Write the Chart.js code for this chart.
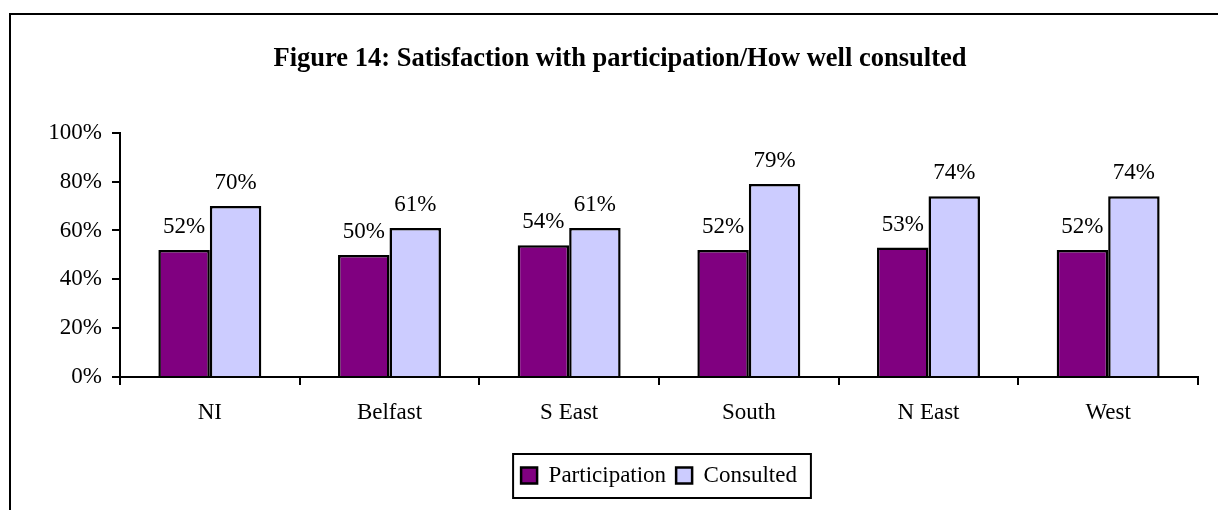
<!DOCTYPE html>
<html>
<head>
<meta charset="utf-8">
<title>Satisfaction with participation</title>
<script src="https://cdn.jsdelivr.net/npm/chart.js@4.4.1/dist/chart.umd.min.js"></script>
<style>
  body { margin: 0; background: #fff; }
  canvas { display: block; }
</style>
</head>
<body>
<canvas id="satisfaction" width="1218" height="510"></canvas>
<script>
// regions and survey results (percent)
const regions = ['NI', 'Belfast', 'S East', 'South', 'N East', 'West'];
const participation = [52, 50, 54, 52, 53, 52];
const consulted = [70, 61, 61, 79, 74, 74];
const yTicks = [0, 20, 40, 60, 80, 100];

const serif = "'Liberation Serif', 'Times New Roman', serif";
Chart.defaults.color = '#000';
Chart.defaults.font.family = serif;

// white page with the frame line on the left and top
const framePlugin = {
    id: 'frame',
    beforeDraw(chart) {
        const c = chart.ctx;
        c.save();
        c.fillStyle = '#fff';
        c.fillRect(0, 0, chart.width, chart.height);
        c.strokeStyle = '#000';
        c.lineWidth = 2;
        c.beginPath();
        c.moveTo(10, chart.height);
        c.lineTo(10, 14);
        c.lineTo(chart.width, 14);
        c.stroke();
        c.restore();
    }
};

// percentage text above every bar
const valueLabels = {
    id: 'valueLabels',
    afterDatasetsDraw(chart) {
        const c = chart.ctx;
        c.save();
        c.font = '23px ' + serif;
        c.fillStyle = '#000';
        c.textAlign = 'center';
        c.textBaseline = 'alphabetic';
        chart.data.datasets.forEach((ds, i) => {
            chart.getDatasetMeta(i).data.forEach((bar, j) => {
                c.fillText(ds.data[j] + '%', bar.x, bar.y - 17);
            });
        });
        c.restore();
    }
};

// box around the legend entries
const legendBox = {
    id: 'legendBox',
    afterDraw(chart) {
        const boxes = chart.legend.legendHitBoxes;
        if (!boxes || !boxes.length) return;
        const first = boxes[0];
        const last = boxes[boxes.length - 1];
        const c = chart.ctx;
        c.save();
        c.strokeStyle = '#000';
        c.lineWidth = 2;
        c.strokeRect(first.left - 8, first.top - 10, last.left + last.width - first.left + 22, first.height + 21);
        c.restore();
    }
};

new Chart(document.querySelector('#satisfaction'), {
    type: 'bar',
    data: {
        labels: regions,
        datasets: [{
            label: 'Participation',
            data: participation,
            backgroundColor: '#800080',
            borderColor: '#000',
            borderWidth: 2.5
        }, {
            label: 'Consulted',
            data: consulted,
            backgroundColor: '#CCCCFF',
            borderColor: '#000',
            borderWidth: 2.5
        }]
    },
    options: {
        responsive: false,
        animation: false,
        categoryPercentage: 0.573,
        barPercentage: 1,
        layout: {
            padding: { left: 42, right: 20, top: 15, bottom: 13 }
        },
        plugins: {
            title: {
                display: true,
                text: 'Figure 14: Satisfaction with participation/How well consulted',
                font: { size: 26.5, weight: 'bold', family: serif },
                color: '#000',
                padding: { top: 28, bottom: 58 }
            },
            legend: {
                position: 'bottom',
                fullSize: false,
                labels: {
                    boxWidth: 16,
                    boxHeight: 16,
                    padding: 10,
                    font: { size: 23, family: serif },
                    color: '#000'
                }
            },
            tooltip: { enabled: false }
        },
        scales: {
            x: {
                grid: {
                    drawOnChartArea: false,
                    color: '#000',
                    lineWidth: 2,
                    tickLength: 8,
                    offset: true
                },
                border: { color: '#000', width: 2 },
                ticks: {
                    padding: 14,
                    font: { size: 23, family: serif },
                    color: '#000'
                },
                afterFit(scale) { scale.height = 77; }
            },
            y: {
                min: 0,
                max: 100,
                afterBuildTicks(scale) {
                    scale.ticks = yTicks.map(v => ({ value: v }));
                },
                grid: {
                    drawOnChartArea: false,
                    color: '#000',
                    lineWidth: 2,
                    tickLength: 8
                },
                border: { color: '#000', width: 2 },
                ticks: {
                    padding: 10,
                    font: { size: 23, family: serif },
                    color: '#000',
                    callback: v => v + '%'
                },
                afterFit(scale) { scale.width = 78; }
            }
        }
    },
    plugins: [framePlugin, valueLabels, legendBox]
});
</script>
</body>
</html>
